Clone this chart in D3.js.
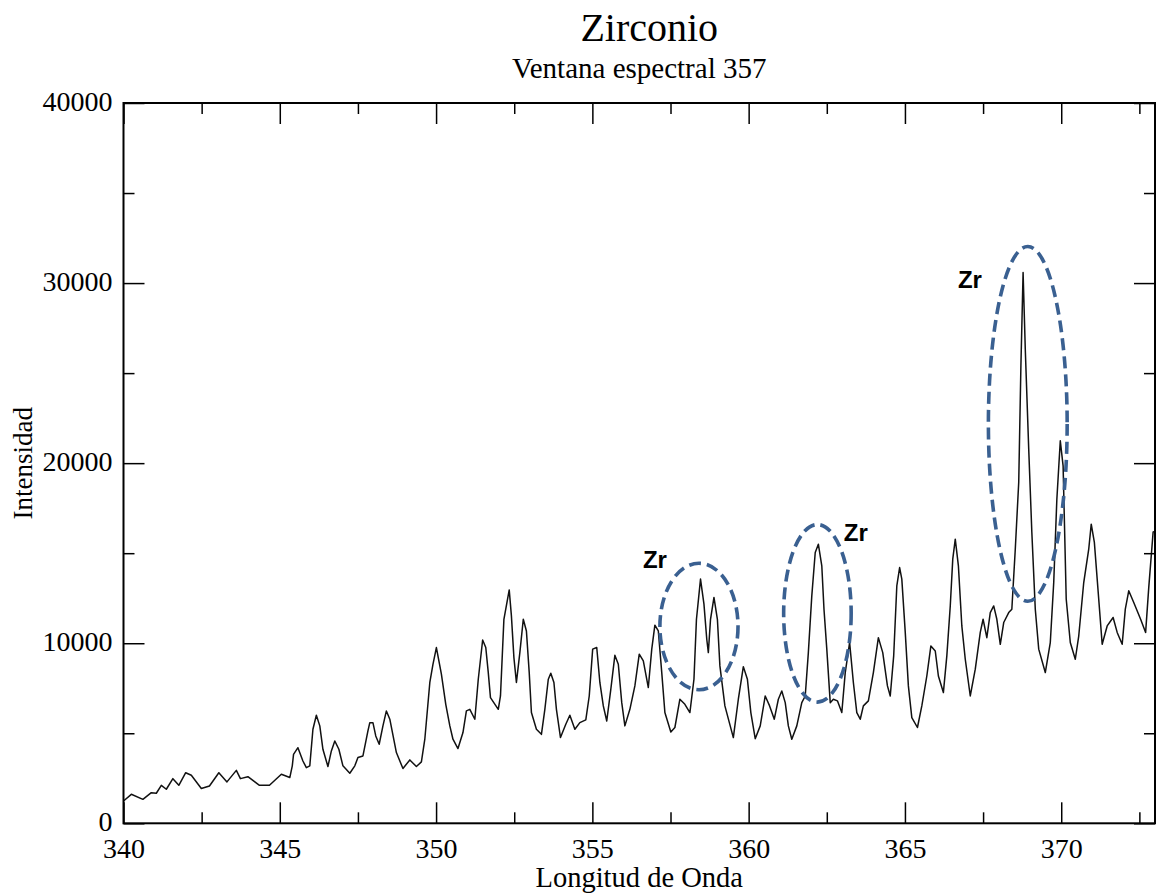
<!DOCTYPE html>
<html><head><meta charset="utf-8">
<script src="https://cdn.jsdelivr.net/npm/d3@7/dist/d3.min.js"></script>
<style>body{margin:0;background:#fff}svg{display:block}</style>
</head><body><svg id="c" width="1158" height="894"></svg>
<script>
const wavelength = [340.00,340.25,340.62,340.89,341.05,341.21,341.37,341.58,341.77,341.99,342.17,342.49,342.75,343.05,343.31,343.61,343.74,343.98,344.35,344.67,345.05,345.32,345.40,345.44,345.58,345.74,345.85,345.96,346.06,346.17,346.28,346.38,346.54,346.65,346.76,346.89,347.02,347.24,347.40,347.50,347.66,347.82,347.88,347.98,348.07,348.18,348.30,348.41,348.52,348.73,348.94,349.16,349.37,349.53,349.64,349.80,349.90,350.01,350.17,350.31,350.44,350.54,350.70,350.86,350.97,351.08,351.24,351.35,351.49,351.59,351.67,351.74,351.99,352.06,352.17,352.34,352.41,352.49,352.57,352.68,352.79,352.89,352.98,353.05,353.21,353.37,353.48,353.59,353.67,353.77,353.85,353.98,354.15,354.28,354.44,354.60,354.79,354.90,355.01,355.14,355.24,355.35,355.46,355.59,355.72,355.83,355.94,356.04,356.20,356.36,356.50,356.63,356.79,356.90,357.00,357.11,357.22,357.32,357.51,357.64,357.80,357.96,358.12,358.25,358.33,358.46,358.57,358.66,358.71,358.78,358.89,359.00,359.08,359.24,359.51,359.67,359.83,359.96,360.07,360.21,360.37,360.53,360.67,360.82,360.95,361.06,361.17,361.27,361.38,361.54,361.70,361.81,361.91,362.02,362.13,362.23,362.34,362.41,362.50,362.61,362.71,362.84,362.98,363.09,363.23,363.35,363.46,363.57,363.67,363.83,363.99,364.15,364.29,364.44,364.53,364.64,364.74,364.83,364.90,365.01,365.11,365.22,365.40,365.54,365.70,365.83,365.97,366.07,366.23,366.34,366.45,366.53,366.61,366.71,366.82,366.93,367.09,367.25,367.41,367.50,367.62,367.73,367.84,367.94,368.05,368.16,368.32,368.42,368.53,368.64,368.71,368.78,368.85,368.96,369.06,369.17,369.28,369.49,369.65,369.76,369.86,369.97,370.06,370.16,370.29,370.45,370.56,370.72,370.88,370.96,371.06,371.20,371.31,371.47,371.66,371.79,371.95,372.05,372.16,372.32,372.54,372.70,372.80,372.94,373.00];
const intensity = [1240,1610,1330,1700,1670,2110,1890,2480,2110,2810,2670,1930,2070,2810,2300,2940,2480,2590,2110,2110,2720,2540,3190,3830,4200,3460,3090,3190,5220,6000,5410,4110,3150,4020,4570,4110,3190,2780,3190,3650,3740,5130,5590,5590,4850,4390,5410,6240,5780,3930,3040,3520,3150,3410,4670,7820,8830,9760,8280,6610,5410,4670,4150,5040,6240,6330,5780,8000,10180,9760,8370,6980,6330,7070,11330,12960,11520,9200,7820,9480,11330,10680,8370,6150,5220,4940,6330,8000,8330,7820,6330,4760,5500,6000,5220,5590,5740,7070,9670,9760,7820,6520,5680,7440,9330,8830,6700,5410,6330,7630,9390,9020,7540,9670,11000,10680,8370,6150,5070,5320,6890,6610,6150,8000,11330,13560,12170,10220,9480,11330,12540,11330,8740,6520,4760,6890,8700,8000,6150,4700,5410,7070,6520,5780,6890,7350,6700,5410,4670,5410,6700,7070,9480,12630,15040,15500,14300,11890,9670,6700,6890,6800,6150,8370,10040,7820,6150,5780,6520,6800,8370,10310,9480,7630,7070,9300,13180,14200,13560,10600,7630,5870,5320,6520,8180,9850,9570,8180,7260,9300,12070,14670,15780,14300,10960,9110,7070,8560,10600,11330,10310,11700,12070,11330,9940,11150,11700,11890,15220,18930,25410,30590,26330,20780,16150,11890,9670,8370,10040,13370,18000,21240,19850,12440,10040,9110,10400,13370,15220,16610,15600,12440,9940,10960,11430,10600,9940,11890,12910,12260,11330,10600,13090,16180,16200];

const xTicks = [340,345,350,355,360,365,370];
const xMinorTicks = [342.5,347.5,352.5,357.5,362.5,367.5,372.5];
const yTicks = [0,10000,20000,30000,40000];
const yMinorTicks = [5000,15000,25000,35000];

const title = "Zirconio";
const subtitle = "Ventana espectral 357";
const xLabel = "Longitud de Onda";
const yLabel = "Intensidad";

// annotation ellipses: centre wavelength, centre intensity, half-width (nm), half-height (intensity)
const ellCx = [358.41, 362.20, 368.93];
const ellCy = [10930, 11660, 22180];
const ellRx = [1.25, 1.08, 1.26];
const ellRy = [3510, 4930, 9850];
// "Zr" labels
const zrX = [357.00, 363.43, 367.08];
const zrY = [14680, 16180, 30180];
const zrText = ["Zr", "Zr", "Zr"];

const W = 1158, H = 894;
const m = {left: 123.5, top: 103, right: 3, bottom: 70.7};
const iw = W - m.left - m.right, ih = H - m.top - m.bottom;
const svg = d3.select("#c");
const g = svg.append("g").attr("transform", `translate(${m.left},${m.top})`);

const x = d3.scaleLinear().domain([340, 373]).range([0, iw]);
const y = d3.scaleLinear().domain([0, 40000]).range([ih, 0]);

const serif = "'Liberation Serif','Times New Roman',serif";

// line
const data = wavelength.map((w, i) => [w, intensity[i]]);
g.append("path").datum(data)
  .attr("fill", "none").attr("stroke", "#111").attr("stroke-width", 1.5)
  .attr("stroke-linejoin", "round")
  .attr("d", d3.line().x(d => x(d[0])).y(d => y(d[1])));

// axes (ticks inward)
function styleAxis(sel) {
  sel.select(".domain").remove();
  sel.selectAll("line").attr("stroke", "#000").attr("stroke-width", 1.5);
  sel.selectAll("text").attr("fill", "#000").style("font-family", serif);
}
const axB = g.append("g").attr("transform", `translate(0,${ih})`)
  .call(d3.axisBottom(x).tickValues(xTicks).tickSize(-21).tickPadding(12).tickFormat(d3.format("d")));
styleAxis(axB);
axB.selectAll("text").style("font-size", "28px").attr("y", 15).attr("dy", "0.72em");
const axBm = g.append("g").attr("transform", `translate(0,${ih})`)
  .call(d3.axisBottom(x).tickValues(xMinorTicks).tickSize(-11).tickFormat(""));
styleAxis(axBm);

const axT = g.append("g")
  .call(d3.axisTop(x).tickValues(xTicks).tickSize(-21).tickFormat(""));
styleAxis(axT);
const axTm = g.append("g")
  .call(d3.axisTop(x).tickValues(xMinorTicks).tickSize(-11).tickFormat(""));
styleAxis(axTm);

const axL = g.append("g")
  .call(d3.axisLeft(y).tickValues(yTicks).tickSize(-21).tickPadding(11).tickFormat(d3.format("d")));
styleAxis(axL);
axL.selectAll("text").style("font-size", "28px").attr("x", -11).attr("dy", "0.27em");
const axLm = g.append("g")
  .call(d3.axisLeft(y).tickValues(yMinorTicks).tickSize(-11).tickFormat(""));
styleAxis(axLm);

const axR = g.append("g").attr("transform", `translate(${iw},0)`)
  .call(d3.axisRight(y).tickValues(yTicks).tickSize(-21).tickFormat(""));
styleAxis(axR);
const axRm = g.append("g").attr("transform", `translate(${iw},0)`)
  .call(d3.axisRight(y).tickValues(yMinorTicks).tickSize(-11).tickFormat(""));
styleAxis(axRm);

// frame
g.append("rect").attr("x", 0).attr("y", 0).attr("width", iw).attr("height", ih)
  .attr("fill", "none").attr("stroke", "#000").attr("stroke-width", 2);

// ellipses
ellCx.forEach((cx, i) => {
  g.append("ellipse")
    .attr("cx", x(cx)).attr("cy", y(ellCy[i]))
    .attr("rx", x(cx + ellRx[i]) - x(cx)).attr("ry", y(0) - y(ellRy[i]))
    .attr("fill", "none").attr("stroke", "#3a6091").attr("stroke-width", 3.6)
    .attr("stroke-dasharray", "12,6");
});
// Zr labels
zrX.forEach((zx, i) => {
  g.append("text").attr("x", x(zx)).attr("y", y(zrY[i])).attr("dy", "0.36em")
    .attr("text-anchor", "middle")
    .style("font-family", "'Liberation Sans',Arial,sans-serif").style("font-weight", "bold")
    .style("font-size", "24px").attr("fill", "#000").text(zrText[i]);
});

// titles
svg.append("text").attr("x", m.left + iw / 2 + 10).attr("y", 41).attr("text-anchor", "middle")
  .style("font-family", serif).style("font-size", "40px").text(title);
svg.append("text").attr("x", m.left + iw / 2).attr("y", 78).attr("text-anchor", "middle")
  .style("font-family", serif).style("font-size", "29px").text(subtitle);
svg.append("text").attr("x", m.left + iw / 2).attr("y", 887).attr("text-anchor", "middle")
  .style("font-family", serif).style("font-size", "28.5px").text(xLabel);
svg.append("text").attr("transform", `translate(32,${m.top + ih / 2}) rotate(-90)`)
  .attr("text-anchor", "middle")
  .style("font-family", serif).style("font-size", "27px").text(yLabel);
</script></body></html>
